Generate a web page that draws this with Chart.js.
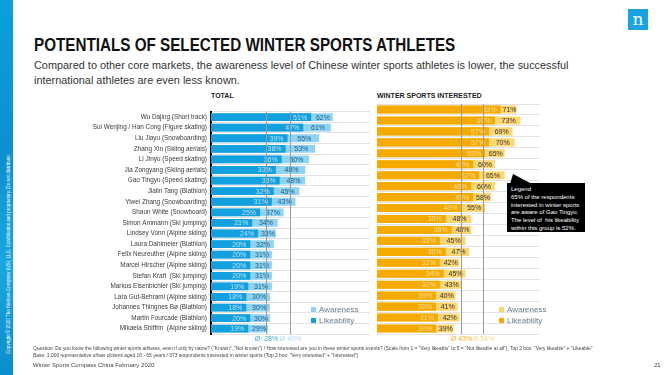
<!DOCTYPE html>
<html>
<head>
<meta charset="utf-8">
<script src="https://cdn.jsdelivr.net/npm/chart.js@4.4.0/dist/chart.umd.min.js"></script>
<style>
  body { margin: 0; width: 666px; height: 375px; background: #fff; position: relative; overflow: hidden; font-family: "Liberation Sans", Arial, sans-serif; }
  .abs { position: absolute; white-space: nowrap; }
  #strip { left: 0; top: 0; width: 13px; height: 375px; background: linear-gradient(160deg, #0aa0dc 0%, #0d8fd0 40%, #1aa6e0 70%, #0b8ccc 100%); }
  #copy { left: 7px; top: 356px; transform: rotate(-90deg); transform-origin: 0 0; font-size: 4.6px; color: #fff; line-height: 1; margin-top: -2px; }
  #logo { left: 628px; top: 9px; width: 20px; height: 21px; background: #1aa3e2; color: #fff; font-family: "DejaVu Serif", serif; font-size: 17px; text-align: center; line-height: 20px; }
  #title { left: 34px; top: 35px; font-family: "Liberation Sans", Arial, sans-serif; font-weight: bold; font-size: 17.5px; color: #111; transform: scaleX(0.87); transform-origin: 0 0; }
  .sub { left: 34px; font-size: 10.9px; color: #333; }
  .hdr { top: 92px; font-size: 7px; font-weight: bold; color: #222; }
  .leg { font-size: 8px; color: #6a7a86; }
  .leg i { display: inline-block; width: 5px; height: 5px; margin-right: 3px; vertical-align: 0px; }
  #box { left: 507px; top: 183px; width: 78px; height: 49px; background: #000; color: #fff; font-size: 6px; line-height: 7.8px; padding: 3px 0 0 4px; box-sizing: border-box; white-space: nowrap; overflow: hidden; }
  .foot { left: 33px; font-size: 4.9px; color: #444; }
  canvas { position: absolute; }
</style>
</head>
<body>
<div id="strip" class="abs"></div>
<div id="copy" class="abs">Copyright © 2020 The Nielsen Company (US), LLC. Confidential and proprietary. Do not distribute.</div>
<div id="logo" class="abs">n</div>
<div id="title" class="abs">POTENTIALS OF SELECTED WINTER SPORTS ATHLETES</div>
<div class="abs sub" style="top:59px">Compared to other core markets, the awareness level of Chinese winter sports athletes is lower, the successful</div>
<div class="abs sub" style="top:74px">international athletes are even less known.</div>

<div class="abs hdr" style="left:211px">TOTAL</div>
<div class="abs hdr" style="left:377px">WINTER SPORTS INTERESTED</div>

<canvas id="chartTotal" width="350" height="244" style="left:20px;top:104px"></canvas>
<canvas id="chartWinter" width="163" height="244" style="left:377px;top:104px"></canvas>

<div class="abs leg" style="left:311px;top:305px"><i style="background:#8ed3f4"></i>Awareness</div>
<div class="abs leg" style="left:311px;top:316px"><i style="background:#169fdc"></i>Likeability</div>
<div class="abs leg" style="left:499px;top:305px"><i style="background:#fcd670"></i>Awareness</div>
<div class="abs leg" style="left:499px;top:316px"><i style="background:#f5aa00"></i>Likeability</div>

<svg class="abs" style="left:500px;top:170px" width="40" height="20"><polygon points="13,4 32,14 10,14" fill="#000"/></svg>
<div id="box" class="abs">Legend<br>65% of the respondents<br>interested in winter sports<br>are aware of Gao Tingyu.<br>The level of &nbsp;his likeability<br>within this group is 52%.</div>

<div class="abs foot" style="top:346px">Question: Do you know the following winter sports athletes, even if only by name? ("Known", "Not known") / How interested are you in these winter sports events? (Scale from 1 = "Very likeable" to 5 = "Not likeable at all"), Top 2 box: "Very likeable" + "Likeable"</div>
<div class="abs foot" style="top:353px">Base: 1,000 representative urban citizens aged 16 - 65 years / 373 respondents interested in winter sports (Top 2 box: "Very interested" + "Interested")</div>
<div class="abs foot" style="top:362px;font-size:6px">Winter Sports Compass China February 2020</div>
<div class="abs foot" style="top:362px;left:654px;font-size:6px">21</div>

<script>
const athletes = [
  'Wu Dajing (Short track)', 'Sui Wenjing / Han Cong (Figure skating)', 'Liu Jiayu (Snowboarding)',
  'Zhang Xin (Skiing aerials)', 'Li Jinyu (Speed skating)', 'Jia Zongyang (Skiing aerials)',
  'Gao Tingyu (Speed skating)', 'Jialin Tang (Biathlon)', 'Yiwei Zhang (Snowboarding)',
  'Shaun White (Snowboard)', 'Simon Ammann (Ski jumping)', 'Lindsey Vonn (Alpine skiing)',
  'Laura Dahlmeier (Biathlon)', 'Felix Neureuther (Alpine skiing)', 'Marcel Hirscher (Alpine skiing)',
  'Stefan Kraft  (Ski jumping)', 'Markus Eisenbichler (Ski jumping)', 'Lara Gut-Behrami (Alpine skiing)',
  'Johannes Thingnes Bø (Biathlon)', 'Martin Fourcade (Biathlon)', 'Mikaela Shiffrin  (Alpine skiing)'
];

// Total
const totalAwareness   = [62, 61, 55, 53, 50, 48, 48, 45, 43, 37, 34, 33, 32, 31, 31, 31, 31, 30, 30, 30, 29];
const totalLikeability = [51, 47, 39, 38, 36, 33, 35, 32, 31, 25, 21, 24, 20, 20, 20, 20, 19, 18, 18, 20, 19];
const totalAverages = [28, 40];

// Winter sports interested
const winterAwareness   = [71, 73, 69, 70, 65, 60, 65, 60, 58, 55, 48, 48, 45, 47, 42, 45, 43, 40, 41, 42, 39];
const winterLikeability = [63, 60, 57, 57, 55, 49, 52, 48, 49, 43, 35, 38, 32, 35, 32, 34, 32, 30, 30, 31, 30];
const winterAverages = [43, 54];

// Etiquetas de valores y líneas de promedio
const etiquetasPlugin = {
  id: 'etiquetas',
  afterDatasetsDraw(chart, args, opts) {
    const { ctx, chartArea, scales } = chart;
    const like = chart.getDatasetMeta(0).data;
    const aware = chart.getDatasetMeta(1).data;
    const likeVals = chart.data.datasets[0].data;
    const awareVals = chart.data.datasets[1].data;
    ctx.save();
    ctx.font = '7px "Liberation Sans", Arial, sans-serif';
    ctx.textBaseline = 'middle';
    like.forEach((bar, i) => {
      ctx.fillStyle = opts.likeText;
      ctx.textAlign = 'right';
      ctx.fillText(likeVals[i] + '%', bar.x - 4, bar.y + 0.5);
      const a = aware[i];
      ctx.fillStyle = opts.awareText;
      ctx.textAlign = 'center';
      ctx.fillText(awareVals[i] + '%', (bar.x + a.x) / 2 + 1, a.y + 0.5);
    });
    // promedios
    ctx.strokeStyle = '#9a9a9a';
    ctx.lineWidth = 1;
    opts.averages.forEach((v, k) => {
      const x = Math.round(scales.x.getPixelForValue(v)) + 0.5;
      ctx.beginPath();
      ctx.moveTo(x, chartArea.top);
      ctx.lineTo(x, chartArea.bottom);
      ctx.stroke();
      ctx.fillStyle = opts.avgColors[k];
      ctx.textAlign = 'center';
      ctx.fillText((k === 0 ? opts.avgPrefix : 'Ø ') + v + '%', x, chartArea.bottom + 5);
    });
    ctx.restore();
  }
};

const crearGrafico = (ctxId, awareness, likeability, colores, max, conEtiquetas, averages) => {
  const ctx = document.getElementById(ctxId).getContext('2d');
  new Chart(ctx, {
    type: 'bar',
    data: {
      labels: athletes,
      datasets: [
        { label: 'Likeability', data: likeability, backgroundColor: colores.like, barPercentage: 0.74, categoryPercentage: 1, grouped: false },
        { label: 'Awareness', data: awareness, backgroundColor: colores.aware, barPercentage: 0.74, categoryPercentage: 1, grouped: false }
      ]
    },
    options: {
      indexAxis: 'y',
      responsive: false,
      animation: false,
      layout: { padding: { top: 0, right: 0, bottom: 14, left: 0 } },
      plugins: {
        legend: { display: false },
        tooltip: { enabled: false },
        etiquetas: {
          likeText: colores.likeText, awareText: colores.awareText,
          averages: averages, avgColors: colores.avg, avgPrefix: colores.avgPrefix
        }
      },
      scales: {
        x: { display: false, min: 0, max: max },
        y: {
          afterFit: s => { s.width = conEtiquetas ? 191 : 0; },
          grid: { color: '#e2e2e2', lineWidth: 1, drawTicks: false, offset: true },
          border: conEtiquetas ? { display: true, color: '#000', width: 2 } : { display: false },
          ticks: {
            display: conEtiquetas,
            autoSkip: false,
            padding: 4,
            color: '#3a3a3a',
            font: { family: '"Liberation Sans", Arial, sans-serif', size: 6.4 }
          }
        }
      }
    },
    plugins: [etiquetasPlugin]
  });
};

document.addEventListener('DOMContentLoaded', () => {
  crearGrafico('chartTotal', totalAwareness, totalLikeability, {
    like: '#12a0de', aware: '#8ed3f4', likeText: 'rgba(255,255,255,0.7)', awareText: '#1c5d80',
    avg: ['#3aa7d8', '#a9daf0'], avgPrefix: 'Ø: '
  }, 81, true, totalAverages);
  crearGrafico('chartWinter', winterAwareness, winterLikeability, {
    like: '#f5aa00', aware: '#fcd670', likeText: 'rgba(255,255,255,0.6)', awareText: '#333',
    avg: ['#f0b020', '#f8d98a'], avgPrefix: 'Ø '
  }, 83, false, winterAverages);
});
</script>
</body>
</html>
